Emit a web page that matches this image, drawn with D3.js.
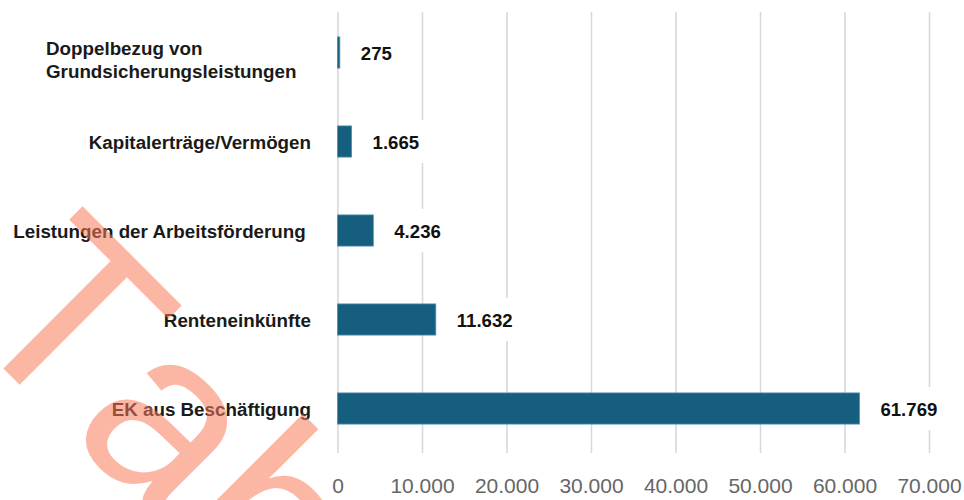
<!DOCTYPE html>
<html>
<head>
<meta charset="utf-8">
<script src="https://cdn.jsdelivr.net/npm/d3@7"></script>
<style>
  html, body { margin: 0; padding: 0; background: #fff; }
  svg { display: block; }
</style>
</head>
<body>
<svg id="chart" width="964" height="500"></svg>
<script>
// ---- data ----
const categories = [
  "Doppelbezug von\nGrundsicherungsleistungen",
  "Kapitalerträge/Vermögen",
  "Leistungen der Arbeitsförderung ",
  "Renteneinkünfte",
  "EK aus Beschäftigung"
];
const values = [275, 1665, 4236, 11632, 61769];
const xTicks = [0, 10000, 20000, 30000, 40000, 50000, 60000, 70000];
const xMax = 70000;
const watermarkText = "Tab";

// ---- setup ----
const svg = d3.select("#chart");
const locale = d3.formatLocale({decimal: ",", thousands: ".", grouping: [3], currency: ["", " €"]});
const fmt = locale.format(",");

const x = d3.scaleLinear().domain([0, xMax]).range([337.5, 929]);
const y = d3.scaleBand().domain(categories).range([8, 453]).paddingInner(0.65).paddingOuter(0.325);

const fontFam = "'Liberation Sans', Arial, Helvetica, sans-serif";

// ---- grid + axis ----
const axisG = svg.append("g")
  .attr("transform", "translate(0,453)")
  .call(d3.axisBottom(x).tickValues(xTicks).tickFormat(fmt).tickSize(-441).tickPadding(25));
axisG.select(".domain").remove();
axisG.selectAll(".tick line").attr("stroke", "#d9d9d9").attr("stroke-width", 1.6);
axisG.selectAll(".tick text")
  .attr("fill", "#666666")
  .style("font-family", fontFam)
  .style("font-size", "21px");

// ---- bars ----
const rows = categories.map((c, i) => ({cat: c, val: values[i]}));
svg.append("g").selectAll("rect").data(rows).join("rect")
  .attr("x", x(0))
  .attr("y", d => y(d.cat))
  .attr("width", d => x(d.val) - x(0))
  .attr("height", y.bandwidth())
  .attr("fill", "#165e80")
  .attr("stroke", "#4f8db0")
  .attr("stroke-width", 0.8);

// ---- value labels with white boxes ----
const vl = svg.append("g").selectAll("g").data(rows).join("g");
vl.each(function(d) {
  const g = d3.select(this);
  const cy = y(d.cat) + y.bandwidth() / 2;
  const tx = x(d.val) + 21;
  const rect = g.append("rect").attr("fill", "#fff");
  const t = g.append("text")
    .attr("x", tx)
    .attr("y", cy + 7.5)
    .attr("fill", "#111")
    .style("font-family", fontFam)
    .style("font-size", "18.6px")
    .style("font-weight", "bold")
    .text(fmt(d.val));
  const w = t.node().getComputedTextLength();
  rect.attr("x", tx - 12).attr("y", cy - 21.5).attr("width", w + 18).attr("height", 43);
});

// ---- category labels ----
const labelRight = 311;
svg.append("g").selectAll("text").data(rows).join("text")
  .style("font-family", fontFam)
  .style("font-size", "18.8px")
  .style("font-weight", "bold")
  .style("white-space", "pre")
  .attr("fill", "#1a1a1a")
  .each(function(d) {
    const t = d3.select(this);
    const lines = d.cat.split("\n");
    const cy = y(d.cat) + y.bandwidth() / 2;
    if (lines.length === 1) {
      t.attr("text-anchor", "end").attr("x", labelRight).attr("y", cy + 7).text(lines[0]);
    } else {
      t.attr("text-anchor", "start");
      lines.forEach((ln, i) => {
        t.append("tspan").attr("x", 46).attr("y", cy + 2.5 + i * 23.3).text(ln);
      });
    }
  });

// ---- watermark ----
svg.append("text")
  .attr("transform", "translate(-42,323) rotate(45)")
  .attr("fill", "#fa7a5a")
  .attr("fill-opacity", 0.55)
  .style("font-family", fontFam)
  .style("font-size", "248px")
  .style("font-kerning", "none")
  .style("letter-spacing", "1px")
  .text(watermarkText);
</script>
</body>
</html>
